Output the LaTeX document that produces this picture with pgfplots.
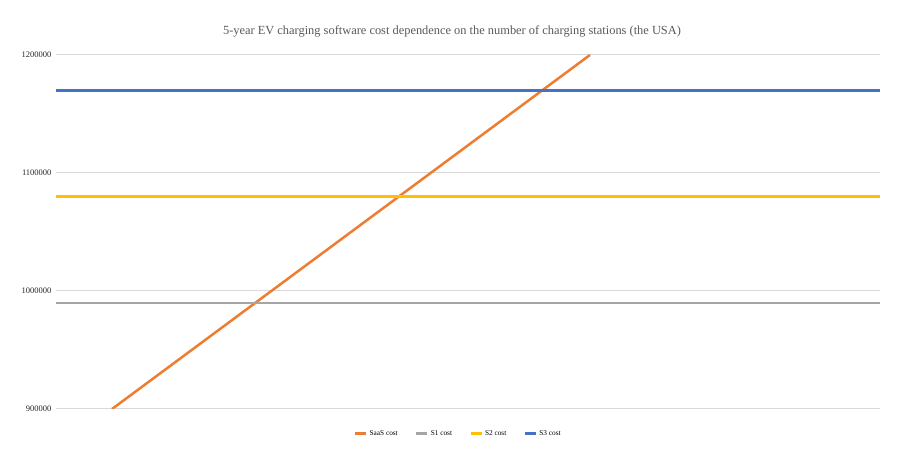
\documentclass[border=0pt]{standalone}
\usepackage{fontspec}
\setmainfont{Liberation Serif}
\usepackage{pgfplots}
\pgfplotsset{compat=1.18}

\definecolor{saas}{HTML}{ED7D31}
\definecolor{sone}{HTML}{A5A5A5}
\definecolor{stwo}{HTML}{FFC000}
\definecolor{sthree}{HTML}{4472C4}

\begin{document}
\begin{tikzpicture}[x=1pt,y=1pt]
\path[use as bounding box] (0,0) rectangle (904,462);
\begin{axis}[
  at={(56pt,53pt)}, anchor=south west,
  scale only axis, width=824pt, height=354pt,
  xmin=0, xmax=100, ymin=900000, ymax=1200000,
  xtick=\empty,
  ytick={900000,1000000,1100000,1200000},
  yticklabels={900000,1000000,1100000,1200000},
  scaled y ticks=false,
  yticklabel style={font=\fontsize{8.5}{9}\selectfont, text=black!85, xshift=-1pt},
  major tick length=0pt,
  axis line style={draw=none},
  ymajorgrids, grid style={black!15, line width=1pt},
  legend style={at={(0.488,-0.0706)}, anchor=center, draw=none,
    legend columns=4, font=\fontsize{7.3}{8}\selectfont,
    /tikz/every even column/.append style={column sep=15pt}},
  legend image code/.code={\draw[#1, line width=3pt] (0pt,0pt) -- (11pt,0pt);},
]
\addplot[saas, line width=2.5pt] coordinates {(6.8,900000) (64.8,1200000)};
\addlegendentry{SaaS cost}
\addplot[sone, line width=2.5pt] coordinates {(0,990000) (100,990000)};
\addlegendentry{S1 cost}
\addplot[stwo, line width=2.5pt] coordinates {(0,1080000) (100,1080000)};
\addlegendentry{S2 cost}
\addplot[sthree, line width=2.5pt] coordinates {(0,1170000) (100,1170000)};
\addlegendentry{S3 cost}
\end{axis}
\node[text=black!65, font=\fontsize{12.4}{14}\selectfont] at (452,431)
  {5-year EV charging software cost dependence on the number of charging stations (the USA)};
\end{tikzpicture}
\end{document}
